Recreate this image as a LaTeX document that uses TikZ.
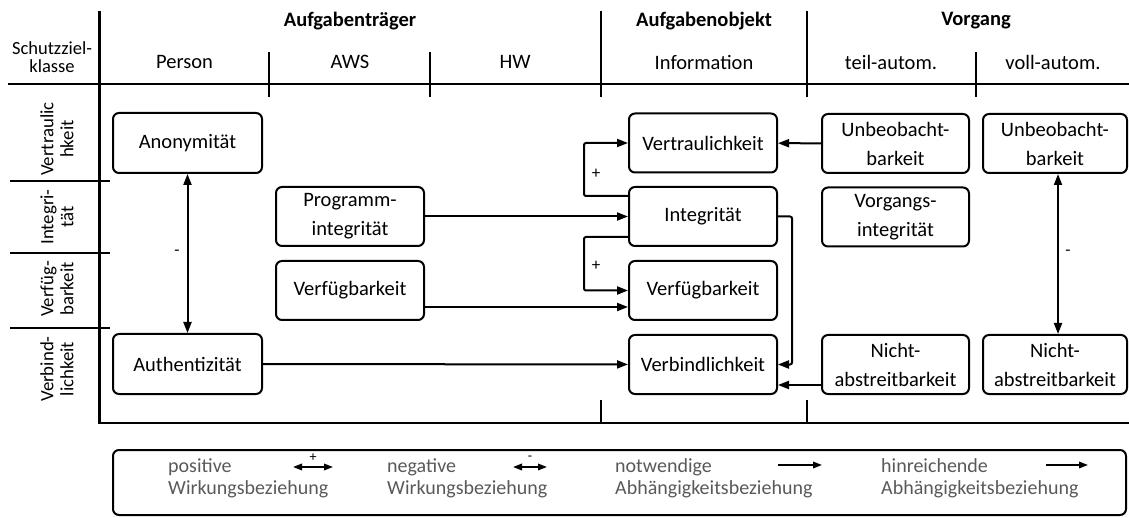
\documentclass[tikz,border=0pt]{standalone}
\usepackage{fontspec}
\setmainfont{Carlito}
\usetikzlibrary{arrows.meta}
\definecolor{legendgray}{HTML}{595959}
\begin{document}
\begin{tikzpicture}[x=1pt,y=-1pt,
  box/.style={draw, line width=2pt, rounded corners=6pt, minimum width=148pt,
    minimum height=59pt, inner sep=0pt, align=center,
    font=\fontsize{20.5}{29}\selectfont},
  arr/.style={line width=2pt, -{Triangle[length=11pt,width=8pt]}},
  dbl/.style={line width=2pt, {Triangle[length=11pt,width=8pt]}-{Triangle[length=11pt,width=8pt]}},
  legarr/.style={line width=1.8pt, -{Triangle[length=9pt,width=6.5pt]}},
  legdbl/.style={line width=1.8pt, {Triangle[length=9pt,width=6.5pt]}-{Triangle[length=9pt,width=6.5pt]}},
  frame/.style={line width=2.2pt},
  divider/.style={line width=1.7pt},
  head/.style={font=\fontsize{20.5}{24}\selectfont, inner sep=0pt},
  boldhead/.style={font=\fontsize{20.5}{24}\selectfont\bfseries, inner sep=0pt},
  rowlabel/.style={rotate=90, align=center, inner sep=0pt,
    font=\fontsize{18.8}{20}\selectfont},
  sign/.style={font=\fontsize{17}{20}\selectfont, inner sep=0pt},
  legsign/.style={font=\fontsize{14}{16}\selectfont, inner sep=0pt},
  legtext/.style={font=\fontsize{20}{22}\selectfont, text=legendgray,
    anchor=base west, inner sep=0pt},
]
\useasboundingbox (0,0) rectangle (1129,518);

% table frame
\draw[frame] (99.5,11) -- (99.5,423) -- (1129,423);
\draw[frame] (8,84) -- (1129,84);
\draw[divider] (269,52) -- (269,97);
\draw[divider] (430,52) -- (430,97);
\draw[divider] (601,11) -- (601,97);
\draw[divider] (807,11) -- (807,97);
\draw[divider] (976,52) -- (976,97);
\draw[divider] (601,400) -- (601,423);
\draw[divider] (807,400) -- (807,423);
\draw[divider] (10,181) -- (110,181);
\draw[divider] (10,253) -- (110,253);
\draw[divider] (10,328) -- (110,328);

% column headers
\node[boldhead] (hTraeger) at (350,21) {Aufgabenträger};
\node[boldhead] (hObjekt) at (704,21) {Aufgabenobjekt};
\node[boldhead] (hVorgang) at (976,21) {Vorgang};
\node[align=center, inner sep=0pt, font=\fontsize{18.5}{18.5}\selectfont]
  (hKlasse) at (52,57) {Schutzziel-\\klasse};
\node[head] (hPerson) at (184.5,62) {Person};
\node[head] (hAWS) at (350,62) {AWS};
\node[head] (hHW) at (515,62) {HW};
\node[head] (hInfo) at (704,62) {Information};
\node[head] (hTeil) at (891,62) {teil-autom.};
\node[head] (hVoll) at (1053,62) {voll-autom.};

% row headers
\node[rowlabel] (rVertr) at (57,139) {Vertraulic\\hkeit};
\node[rowlabel] (rInteg) at (57,217) {Integri-\\tät};
\node[rowlabel] (rVerf) at (57,289) {Verfüg-\\barkeit};
\node[rowlabel] (rVerb) at (57,369) {Verbind-\\lichkeit};

% protection goals
\node[box, minimum width=149pt, minimum height=60pt] (anon) at (187.5,143) {Anonymität};
\node[box, minimum width=149pt, minimum height=60pt] (auth) at (187.5,364) {Authentizität};
\node[box] (prog) at (350,216.5) {Programm-\\integrität};
\node[box] (verfA) at (350,290.5) {Verfügbarkeit};
\node[box] (vertr) at (703,143) {Vertraulichkeit};
\node[box] (integ) at (703,216.5) {Integrität};
\node[box] (verfI) at (703,290.5) {Verfügbarkeit};
\node[box] (verb) at (703,364.5) {Verbindlichkeit};
\node[box, minimum width=147pt] (unbT) at (895.5,143.5) {Unbeobacht-\\barkeit};
\node[box, minimum width=147pt] (vorg) at (895.5,217) {Vorgangs-\\integrität};
\node[box, minimum width=147pt] (nichtT) at (895.5,364.5) {Nicht-\\abstreitbarkeit};
\node[box, minimum width=144pt] (unbV) at (1055,143.5) {Unbeobacht-\\barkeit};
\node[box, minimum width=144pt] (nichtV) at (1055,364.5) {Nicht-\\abstreitbarkeit};

% relations
\draw[dbl] (anon) -- (auth);
\node[sign] (mAnon) at (177,253) {-};
\draw[dbl] ([xshift=3pt]unbV.south) -- ([xshift=3pt]nichtV.north);
\node[sign] (mVoll) at (1068,253) {-};

\draw[arr] (prog) -- (integ);
\draw[arr] ([yshift=-16.5pt]verfA.east) -- ([yshift=-16.5pt]verfI.west);
\draw[arr] (auth) -- (verb);
\draw[arr, rounded corners=2pt] ([yshift=20.5pt]integ.west) -- ++(-44,0) |- (vertr.west);
\node[sign] (pVertr) at (596,174) {+};
\draw[arr, rounded corners=2pt] ([yshift=-20.5pt]integ.west) -- ++(-44,0) |- (verfI.west);
\node[sign] (pVerf) at (596,266) {+};
\draw[arr, rounded corners=2pt] (integ.east) -- ++(14,0) |- (verb.east);
\draw[arr] (unbT) -- (vertr);
\draw[arr] ([yshift=-20.5pt]nichtT.west) -- ([yshift=-20.5pt]verb.east);

% legend
\node[draw, line width=2pt, rounded corners=6pt, minimum width=1013pt,
  minimum height=65pt, inner sep=0pt] (legend) at (619.5,482.5) {};
\node[legtext] (l1a) at (168,472) {positive};
\node[legtext] (l1b) at (168,494) {Wirkungsbeziehung};
\node[legtext] (l2a) at (387,472) {negative};
\node[legtext] (l2b) at (387,494) {Wirkungsbeziehung};
\node[legtext] (l3a) at (615,472) {notwendige};
\node[legtext] (l3b) at (615,494) {Abhängigkeitsbeziehung};
\node[legtext] (l4a) at (881,472) {hinreichende};
\node[legtext] (l4b) at (881,494) {Abhängigkeitsbeziehung};

\coordinate (k1a) at (293,467); \coordinate (k1b) at (333,467);
\coordinate (k2a) at (513,467); \coordinate (k2b) at (547,467);
\coordinate (k3a) at (778,465); \coordinate (k3b) at (822,465);
\coordinate (k4a) at (1046,465); \coordinate (k4b) at (1088,465);
\draw[legdbl] (k1a) -- (k1b);
\node[legsign] (s1) at (313,458) {+};
\draw[legdbl] (k2a) -- (k2b);
\node[legsign] (s2) at (530,458) {-};
\draw[legarr] (k3a) -- (k3b);
\draw[legarr] (k4a) -- (k4b);
\end{tikzpicture}
\end{document}
